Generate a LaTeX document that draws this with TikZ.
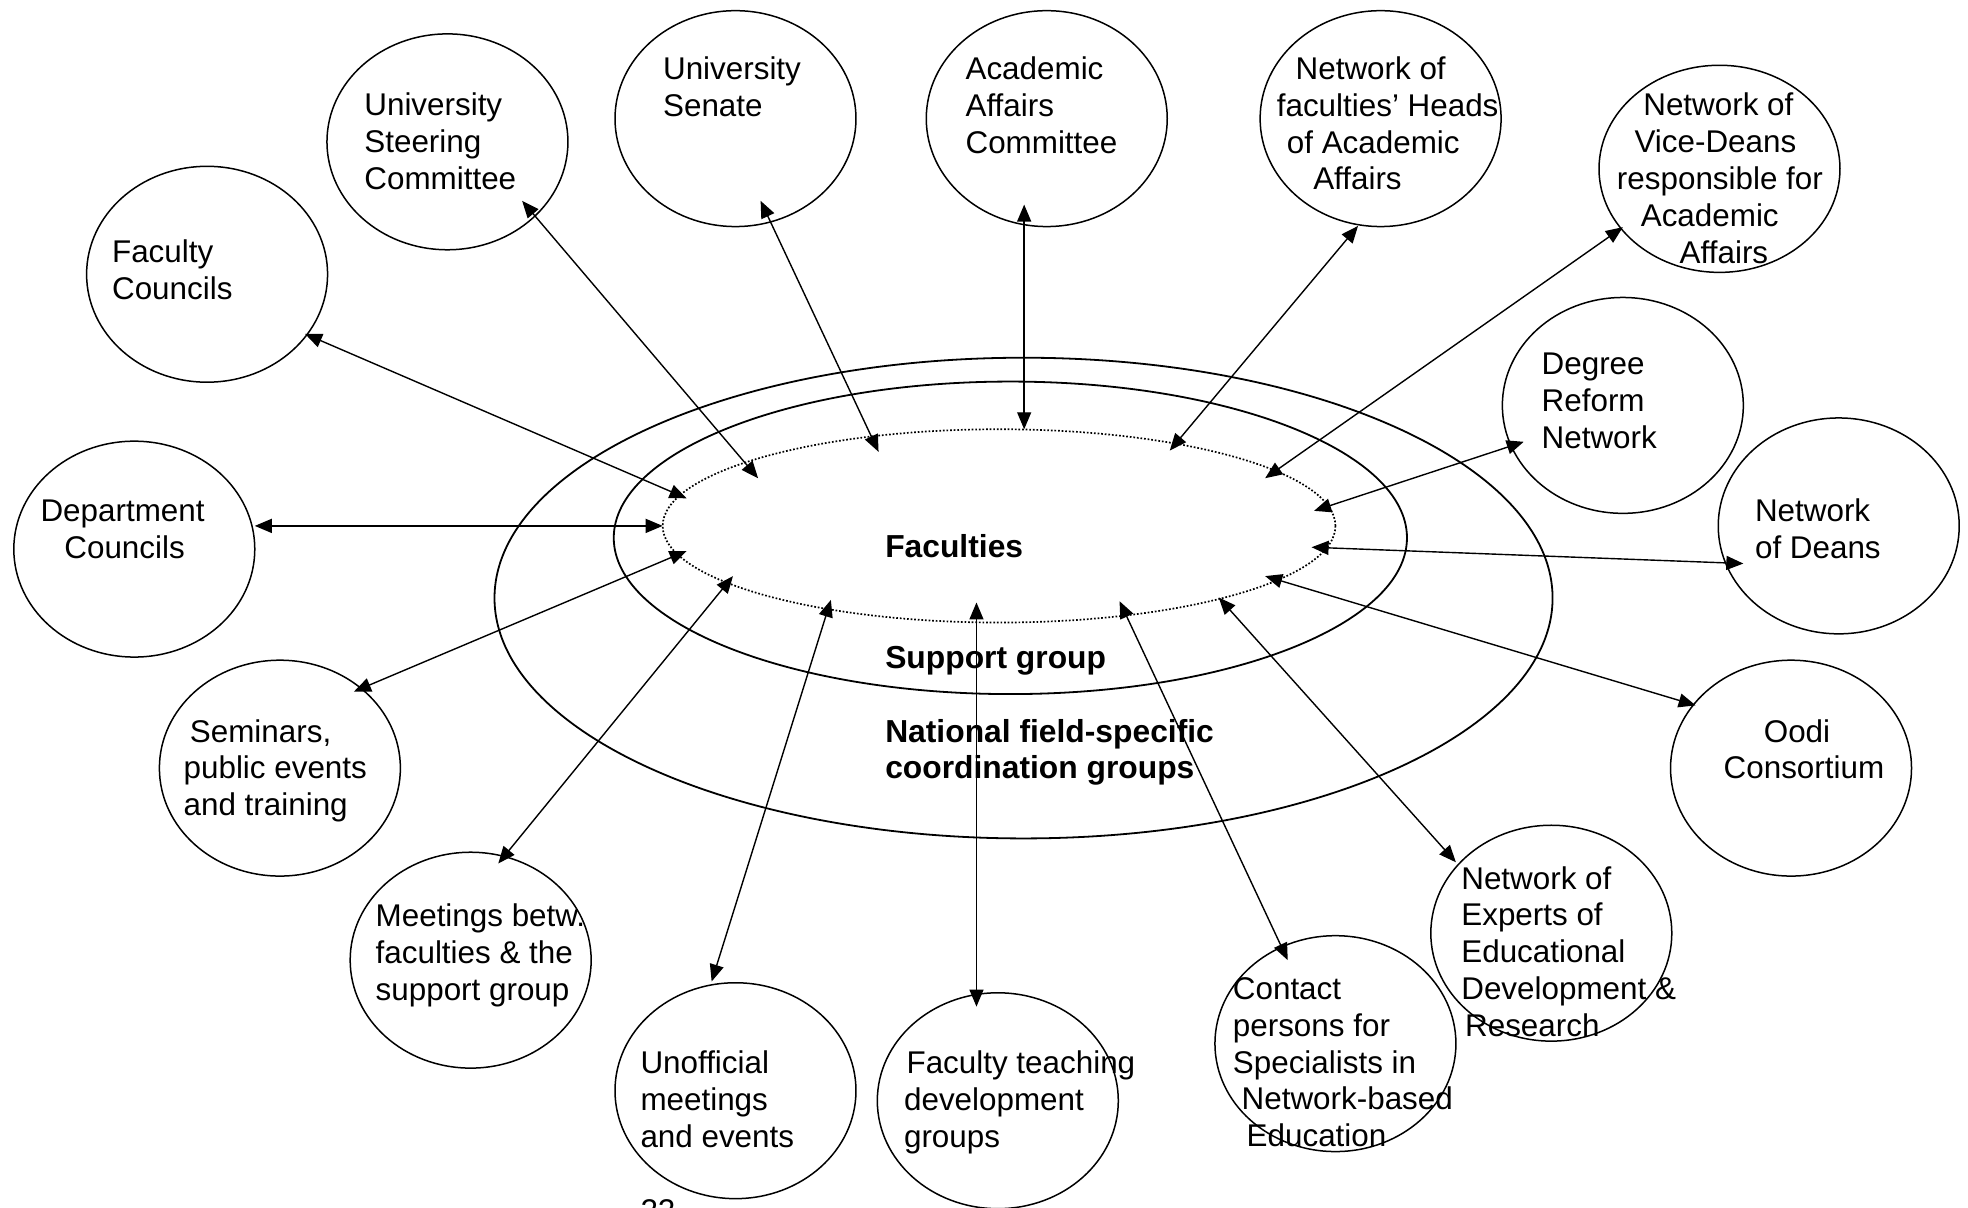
\documentclass[tikz,border=0pt]{standalone}
\usepackage{fontspec}
\setmainfont{Liberation Sans}
\usetikzlibrary{arrows.meta,shapes.geometric,calc}
\newlength{\myu}\setlength{\myu}{0.62755pt}
\newcommand{\tstrut}{\rule{0pt}{20\myu}}
\newcommand{\ind}[1]{\hspace*{#1\myu}}
\begin{document}
\begin{tikzpicture}[x=0.62755pt, y=-0.62755pt,
  bub/.style={draw, ellipse, inner sep=0pt, line width=0.75pt, minimum width=120.49pt, minimum height=107.94pt},
  big/.style={draw, ellipse, inner sep=0pt, line width=0.9pt},
  dotell/.style={big, line width=0.85pt, dash pattern=on 0.85pt off 0.95pt},
  lbl/.style={inner sep=0pt, anchor=north west, align=left, font=\fontsize{15.7pt}{18.4pt}\selectfont},
  blbl/.style={lbl, font=\fontsize{15.9pt}{18.4pt}\selectfont\bfseries},
  conn/.style={{Triangle[length=8.5pt,width=7pt]}-{Triangle[length=8.5pt,width=7pt]}, line width=0.7pt},
]
\useasboundingbox (0,0) rectangle (1568,962);

% central ellipses
\node[big, minimum width=529.03pt, minimum height=240.35pt] (nat) at (815.5,476.5) {};
\node[big, minimum width=396.61pt, minimum height=156.26pt] (sup) at (805,428.5) {};
\node[dotell, minimum width=336.37pt, minimum height=96.64pt] (fac) at (796,419) {};

\node[blbl] (fac-t) at (705,424) {\tstrut Faculties};
\node[blbl] (sup-t) at (705,512) {\tstrut Support group};
\node[blbl] (nat-t) at (705,571) {\tstrut National field-specific\\coordination groups};

% outer bubbles
\node[bub] (fc)   at (165,218.5) {};
\node[bub] (usc)  at (356.5,113) {};
\node[bub] (sen)  at (586,94.5) {};
\node[bub] (aac)  at (834,94.5) {};
\node[bub] (nha)  at (1100,94.5) {};
\node[bub, minimum height=103.55pt] (nvd) at (1370,134.5) {};
\node[bub] (drn)  at (1293,323) {};
\node[bub] (nod)  at (1465,419) {};
\node[bub] (oodi) at (1427,612) {};
\node[bub] (nee)  at (1236,743.5) {};
\node[bub] (cp)   at (1064,831.5) {};
\node[bub] (ftd)  at (795,877) {};
\node[bub] (uoe)  at (586,869) {};
\node[bub] (mbf)  at (375,765) {};
\node[bub] (sem)  at (223,612) {};
\node[bub] (dc)   at (107,437.5) {};

% bubble texts
\node[lbl] (fc-t)   at (89,189)   {\tstrut Faculty\\Councils};
\node[lbl] (usc-t)  at (290,72)   {\tstrut University\\Steering\\Committee};
\node[lbl] (sen-t)  at (528,43)   {\tstrut University\\Senate};
\node[lbl] (aac-t)  at (769,43)   {\tstrut Academic\\Affairs\\Committee};
\node[lbl] (nha-t)  at (1017,43)  {\tstrut\ind{15}Network of\\faculties’ Heads\\\ind{8}of Academic\\\ind{29}Affairs};
\node[lbl] (nvd-t)  at (1288,72)  {\tstrut\ind{21}Network of\\\ind{14}Vice-Deans\\responsible for\\\ind{19}Academic\\\ind{50}Affairs};
\node[lbl] (drn-t)  at (1228,278) {\tstrut Degree\\Reform\\Network};
\node[lbl] (nod-t)  at (1398,395) {\tstrut Network\\of Deans};
\node[lbl] (oodi-t) at (1373,571) {\tstrut\ind{32}Oodi\\Consortium};
\node[lbl] (nee-t)  at (1164,688) {\tstrut Network of\\Experts of\\Educational\\Development \&\\\ind{3}Research};
\node[lbl] (cp-t)   at (982,776)  {\tstrut Contact\\persons for\\Specialists in\\\ind{7}Network-based\\\ind{11}Education};
\node[lbl] (ftd-t)  at (720,835)  {\tstrut\ind{2}Faculty teaching\\development\\groups};
\node[lbl] (uoe-t)  at (510,835)  {\tstrut Unofficial\\meetings\\and events};
\node[lbl] (mbf-t)  at (299,718)  {\tstrut Meetings betw.\\faculties \& the\\support group};
\node[lbl] (sem-t)  at (146,571)  {\tstrut\ind{5}Seminars,\\public events\\and training};
\node[lbl] (dc-t)   at (32,395)   {\tstrut Department\\\ind{19}Councils};

\node[lbl] (pg) at (510,953) {\tstrut 22};

% connectors
\draw[conn] ($(fc)+(78,47.5)$)    -- ($(fac)+(-249,-22)$);
\draw[conn] ($(usc)+(59.5,47)$)   -- ($(fac)+(-192,-38)$);
\draw[conn] ($(sen)+(20,65.5)$)   -- ($(fac)+(-96,-59)$);
\draw[conn] ($(aac)+(-18,68.5)$)  -- ($(fac)+(20,-77)$);
\draw[conn] ($(nha)+(-18,85.5)$)  -- ($(fac)+(136,-60)$);
\draw[conn] ($(nvd)+(-77,46.5)$)  -- ($(fac)+(212,-38)$);
\draw[conn] ($(drn)+(-79,29)$)    -- ($(fac)+(251,-12)$);
\draw[conn] ($(nod)+(-76,30)$)    -- ($(fac)+(249,17)$);
\draw[conn] ($(oodi)+(-76,-50)$)  -- ($(fac)+(212,40)$);
\draw[conn] ($(nee)+(-76,-56.5)$) -- ($(fac)+(175,57)$);
\draw[conn] ($(cp)+(-38,-66.5)$)  -- ($(fac)+(96,60)$);
\draw[conn] ($(ftd)+(-17,-75)$)   -- ($(fac)+(-18,61)$);
\draw[conn] ($(uoe)+(-19,-87)$)   -- ($(fac)+(-134,59)$);
\draw[conn] ($(mbf)+(22,-77)$)    -- ($(fac)+(-212,40)$);
\draw[conn] ($(sem)+(59,-61)$)    -- ($(fac)+(-249,20)$);
\draw[conn] ($(dc)+(96,-18.5)$)   -- ($(fac)+(-268,0)$);
\end{tikzpicture}
\end{document}
